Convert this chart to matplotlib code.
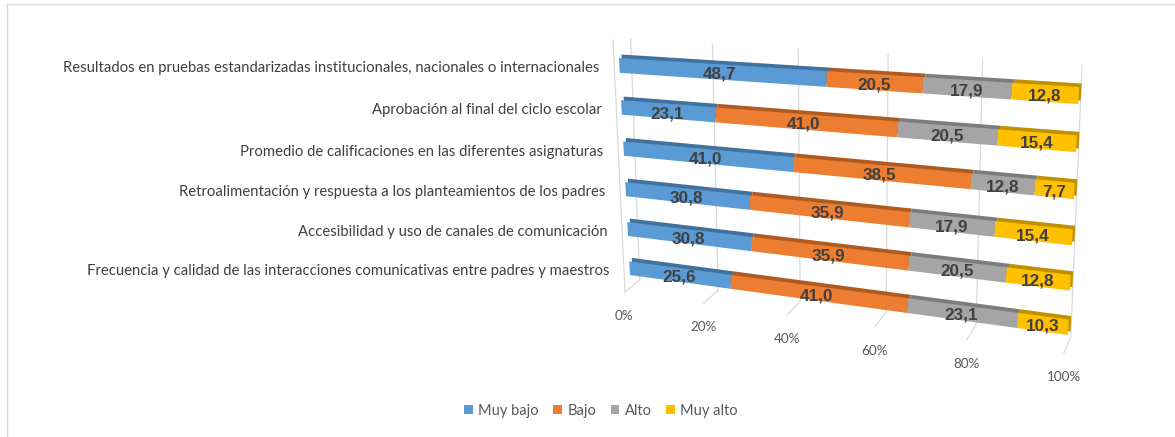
import numpy as np
import matplotlib
matplotlib.use("Agg")
import matplotlib.pyplot as plt
import matplotlib.transforms as mtransforms
from matplotlib.patches import Patch
from matplotlib.lines import Line2D

# --- data (top row first) ---
categories = [
    "Resultados en pruebas estandarizadas institucionales, nacionales o internacionales",
    "Aprobación al final del ciclo escolar",
    "Promedio de calificaciones en las diferentes asignaturas",
    "Retroalimentación y respuesta a los planteamientos de los padres",
    "Accesibilidad y uso de canales de comunicación",
    "Frecuencia y calidad de las interacciones comunicativas entre padres y maestros",
]
series_names = ["Muy bajo", "Bajo", "Alto", "Muy alto"]
muy_bajo = [48.7, 23.1, 41.0, 30.8, 30.8, 25.6]
bajo = [20.5, 41.0, 38.5, 35.9, 35.9, 41.0]
alto = [17.9, 20.5, 12.8, 17.9, 20.5, 23.1]
muy_alto = [12.8, 15.4, 7.7, 15.4, 12.8, 10.3]
ticks = [0, 20, 40, 60, 80, 100]
tick_labels = ["0%", "20%", "40%", "60%", "80%", "100%"]

colors = ["#5B9BD5", "#ED7D31", "#A5A5A5", "#FFC000"]
top_colors = ["#41719C", "#AE5A21", "#7C7C7C", "#BF9000"]

W, H = 1175, 437
BAR_H = 0.35

# screen points (px, y down) used to calibrate the fake 3D view
wall_top = [(631, 40), (712, 45), (799, 48), (887, 53), (982, 60), (1083, 67)]
wall_bottom = [(638, 283), (719, 290), (802, 298), (886, 312), (976, 323), (1070, 338)]
floor_front = [(625, 292), (704, 303), (787, 313), (874, 327), (966, 342), (1065, 353)]


def fit_h(src, dst):
    # least squares projective matrix src -> dst
    A, b = [], []
    for (x, y), (u, v) in zip(src, dst):
        A.append([x, y, 1, 0, 0, 0, -u * x, -u * y])
        b.append(u)
        A.append([0, 0, 0, x, y, 1, -v * x, -v * y])
        b.append(v)
    h = np.linalg.lstsq(np.array(A, float), np.array(b, float), rcond=None)[0]
    return np.append(h, 1).reshape(3, 3)


class Persp(mtransforms.Transform):
    input_dims = 2
    output_dims = 2
    is_separable = False

    def __init__(self, M):
        super().__init__()
        self.M = M

    def transform_non_affine(self, values):
        xy = np.asarray(values, float).reshape(-1, 2)
        p = np.column_stack([xy, np.ones(len(xy))]) @ self.M.T
        return p[:, :2] / p[:, 2:3]


fig = plt.figure(figsize=(W / 100, H / 100), dpi=100)
fig.patch.set_facecolor("white")
ax = fig.add_axes([0, 0, 1, 1])
ax.set_axis_off()

# pixel coords (y down) -> figure
to_fig = mtransforms.Affine2D().scale(1 / W, -1 / H).translate(0, 1) + fig.transFigure

n = len(categories)
front_M = fit_h([(0, 0), (100, 0), (0, n - 1 + BAR_H), (100, n - 1 + BAR_H)],
                [(619, 58), (1079, 87), (630, 275), (1068, 335)])
wall_M = fit_h([(t, 0) for t in ticks] + [(t, 1) for t in ticks], wall_top + wall_bottom)
floor_M = fit_h([(t, 0) for t in ticks] + [(t, 1) for t in ticks], wall_bottom + floor_front)

front_T = Persp(front_M) + to_fig
back_T = Persp(front_M) + mtransforms.Affine2D().translate(2.5, -3.5) + to_fig
wall_T = Persp(wall_M) + to_fig
floor_T = Persp(floor_M) + to_fig
tick_T = Persp(floor_M) + mtransforms.Affine2D().translate(0, 24) + to_fig
cat_T = Persp(front_M) + mtransforms.Affine2D().translate(-20, 3) + to_fig
val_T = Persp(front_M) + mtransforms.Affine2D().translate(0, 2.5) + to_fig

grid_col = "#D9D9D9"
for v in ticks:
    ax.add_line(Line2D([v, v], [0, 1], transform=wall_T, color=grid_col, lw=0.9, zorder=0))
    ax.add_line(Line2D([v, v], [0, 1], transform=floor_T, color=grid_col, lw=0.9, zorder=0))
# front-left edge of the side wall
ax.add_line(Line2D([613, floor_front[0][0]], [40, floor_front[0][1]], transform=to_fig,
                   color=grid_col, lw=0.9, zorder=0))
for v, lab in zip(ticks, tick_labels):
    ax.text(v, 1, lab, transform=tick_T, ha="center", va="center",
            fontsize=9.7, family=["Lato", "DejaVu Sans"], color="#595959")

# stacked values, normalised to 100 %
data = np.array([muy_bajo, bajo, alto, muy_alto], float)
pct = data / data.sum(axis=0) * 100
lefts = np.vstack([np.zeros(n), np.cumsum(pct, axis=0)[:-1]])
rows = np.arange(n) + BAR_H / 2

for k in range(4):
    ax.barh(rows, pct[k], left=lefts[k], height=BAR_H, color=top_colors[k],
            transform=back_T, clip_on=False, zorder=1, linewidth=0)
for k in range(4):
    ax.barh(rows, pct[k], left=lefts[k], height=BAR_H, color=colors[k],
            transform=front_T, clip_on=False, zorder=2, linewidth=0)
    for i in range(n):
        ax.text(lefts[k][i] + pct[k][i] / 2, rows[i], f"{data[k][i]:.1f}".replace(".", ","),
                transform=val_T, ha="center", va="center", fontsize=12.3, fontweight="bold",
                family=["Liberation Sans Narrow", "Liberation Sans", "DejaVu Sans"],
                color="#404040", zorder=5)

for i, cat in enumerate(categories):
    ax.text(0, rows[i], cat, transform=cat_T, ha="right", va="center",
            fontsize=10.7, family=["Lato", "DejaVu Sans"], color="#404040")

# chart border (top and left edges visible)
fig.add_artist(Line2D([7, W], [4, 4], transform=to_fig, color=grid_col, lw=1))
fig.add_artist(Line2D([7, 7], [4, H], transform=to_fig, color=grid_col, lw=1))

handles = [Patch(facecolor=c, label=s) for c, s in zip(colors, series_names)]
ax.legend(handles=handles, loc="center", bbox_to_anchor=(601 / W, 1 - 411 / H),
          bbox_transform=fig.transFigure, ncol=4, frameon=False,
          prop={"family": ["Lato", "DejaVu Sans"], "size": 10.5},
          labelcolor="#595959", handlelength=0.6, handleheight=0.6,
          handletextpad=0.35, columnspacing=1.0)

fig.savefig("out.png", dpi=100)
